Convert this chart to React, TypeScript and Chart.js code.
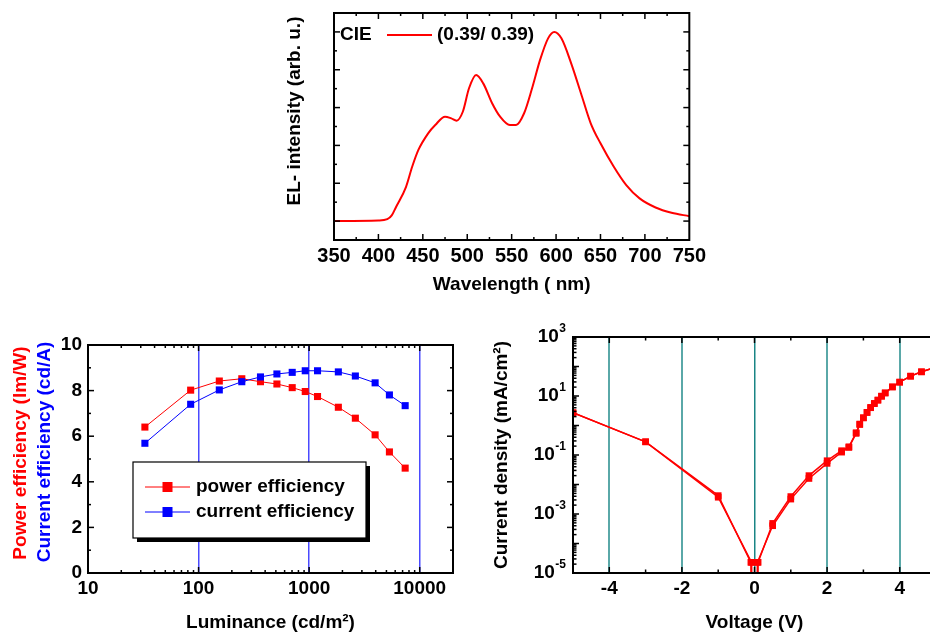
import React, { useEffect, useRef } from 'react';
import { Chart, registerables } from 'chart.js';

Chart.register(...registerables);

const FONT = "'Liberation Sans', Arial, Helvetica, sans-serif";

// ---------- Top: EL spectrum ----------
const wavelength = [350, 400, 410, 415, 420, 431, 438, 445, 456, 464, 475, 482, 488, 495, 502, 510, 518, 528, 537, 548, 555, 564, 573, 582, 591, 598, 606, 617, 628, 639, 650, 665, 679, 694, 712, 730, 750];
const elIntensity = [0.0, 0.003, 0.01, 0.03, 0.076, 0.18, 0.287, 0.376, 0.464, 0.508, 0.552, 0.543, 0.531, 0.578, 0.702, 0.772, 0.728, 0.623, 0.552, 0.508, 0.508, 0.57, 0.702, 0.852, 0.966, 1.0, 0.966, 0.834, 0.676, 0.517, 0.411, 0.287, 0.19, 0.12, 0.072, 0.044, 0.026];
const wavelengthTicks = [350, 400, 450, 500, 550, 600, 650, 700, 750];
const cieLabel = '(0.39/ 0.39)';

// ---------- Bottom left: efficiencies ----------
const luminance = [32.7, 84.8, 154, 246, 363, 511, 703, 922, 1191, 1837, 2618, 3951, 5321, 7386];
const powerEfficiency = [6.4, 8.02, 8.42, 8.52, 8.39, 8.29, 8.13, 7.96, 7.74, 7.27, 6.79, 6.06, 5.31, 4.6];
const currentEfficiency = [5.69, 7.4, 8.03, 8.39, 8.6, 8.73, 8.8, 8.87, 8.87, 8.82, 8.64, 8.34, 7.81, 7.34];
const luminanceTicks = [10, 100, 1000, 10000];
const efficiencyTicks = [0, 2, 4, 6, 8, 10];

// ---------- Bottom right: J-V ----------
const voltageA = [-5, -3, -1, -0.1, -0.07, 0.07, 0.1, 0.5, 1, 1.5, 2, 2.4, 2.6, 2.8, 2.9, 3.0, 3.1, 3.2, 3.3, 3.4, 3.5, 3.6, 3.8, 4.0, 4.3, 4.6, 5.0];
const currentA = [2.7, 0.28, 0.0042, 2.3e-5, 1e-9, 1e-9, 2.3e-5, 4.8e-4, 3.9e-3, 0.02, 0.064, 0.14, 0.19, 0.57, 1.12, 1.84, 2.8, 4.1, 5.6, 7.3, 9.9, 12.8, 20.4, 29.5, 47, 66, 95];
const voltageB = [-5, -3, -1, -0.08, -0.03, 0.03, 0.08, 0.5, 1, 1.5, 2, 2.4, 2.6, 2.8, 2.9, 3.0, 3.1, 3.2, 3.3, 3.4, 3.5, 3.6, 3.8, 4.0, 4.3, 4.6, 5.0];
const currentB = [2.7, 0.28, 0.0037, 2.3e-5, 1e-9, 1e-9, 2.3e-5, 4.0e-4, 3.2e-3, 0.016, 0.052, 0.125, 0.18, 0.54, 1.08, 1.8, 2.75, 4.0, 5.5, 7.2, 9.8, 12.6, 20.2, 29.5, 47, 66, 95];
const voltageTicks = [-4, -2, 0, 2, 4];
const densityExponents = [3, 1, -1, -3, -5];

const RED = '#ff0000';
const BLUE = '#0000ff';

function font(size: number) {
  return { family: FONT, size, weight: 'bold' as const, lineHeight: 1.2 };
}

function frameTicks(o: { xMajor: number[]; xMinor: number[]; yMajor: number[]; yMinor: number[]; majorLen: number; minorLen: number }) {
  return {
    id: 'frameTicks',
    afterDatasetsDraw(chart: any) {
      const { ctx, chartArea: a, scales } = chart;
      const xs = scales.x;
      const ys = scales.y;
      ctx.save();
      ctx.strokeStyle = '#000';
      ctx.lineWidth = 1.5;
      const line = (x1: number, y1: number, x2: number, y2: number) => {
        ctx.beginPath();
        ctx.moveTo(x1, y1);
        ctx.lineTo(x2, y2);
        ctx.stroke();
      };
      const xGroups: [number[], number][] = [[o.xMajor, o.majorLen], [o.xMinor, o.minorLen]];
      for (const [vals, len] of xGroups) {
        for (const v of vals) {
          const p = xs.getPixelForValue(v);
          if (p < a.left + 1 || p > a.right - 1) continue;
          line(p, a.bottom, p, a.bottom - len);
          line(p, a.top, p, a.top + len);
        }
      }
      const yGroups: [number[], number][] = [[o.yMajor, o.majorLen], [o.yMinor, o.minorLen]];
      for (const [vals, len] of yGroups) {
        for (const v of vals) {
          const p = ys.getPixelForValue(v);
          if (p < a.top + 1 || p > a.bottom - 1) continue;
          line(a.left, p, a.left + len, p);
          line(a.right, p, a.right - len, p);
        }
      }
      ctx.lineWidth = 2;
      ctx.strokeRect(a.left, a.top, a.right - a.left, a.bottom - a.top);
      ctx.restore();
    },
  };
}

function drawText(ctx: CanvasRenderingContext2D, text: string, x: number, y: number, size: number, color: string, rotation = 0, align: CanvasTextAlign = 'center') {
  ctx.save();
  ctx.translate(x, y);
  ctx.rotate(rotation);
  ctx.font = `bold ${size}px ${FONT}`;
  ctx.fillStyle = color;
  ctx.textAlign = align;
  ctx.textBaseline = 'middle';
  ctx.fillText(text, 0, 0);
  ctx.restore();
}

function ChartBox(props: { left: number; top: number; width: number; height: number; build: () => any }) {
  const ref = useRef<HTMLCanvasElement>(null);
  useEffect(() => {
    const chart = new Chart(ref.current as HTMLCanvasElement, props.build());
    return () => chart.destroy();
  }, []);
  return (
    <canvas
      ref={ref}
      width={props.width}
      height={props.height}
      style={{ position: 'absolute', left: props.left, top: props.top, width: props.width, height: props.height, display: 'block' }}
    />
  );
}

const noAxisDeco = { grid: { display: false, drawTicks: false }, border: { display: false } };

function buildSpectrum() {
  const minors: number[] = [];
  for (let i = 0; i < wavelengthTicks.length - 1; i++) minors.push((wavelengthTicks[i] + wavelengthTicks[i + 1]) / 2);
  return {
    type: 'line',
    data: {
      datasets: [
        {
          data: wavelength.map((x, i) => ({ x, y: elIntensity[i] })),
          borderColor: RED,
          borderWidth: 2,
          pointRadius: 0,
          cubicInterpolationMode: 'monotone',
          fill: false,
        },
      ],
    },
    options: {
      animation: false,
      responsive: false,
      layout: { padding: { top: 13, right: 12, left: 0, bottom: 0 } },
      plugins: { legend: { display: false }, tooltip: { enabled: false } },
      scales: {
        x: {
          type: 'linear',
          min: 350,
          max: 750,
          afterBuildTicks: (s: any) => { s.ticks = wavelengthTicks.map((value) => ({ value })); },
          afterFit: (s: any) => { s.height = 60; },
          ...noAxisDeco,
          ticks: { padding: 4, font: font(20), color: '#000', maxRotation: 0, autoSkip: false, callback: (v: any) => String(v) },
          title: { display: true, text: 'Wavelength ( nm)', font: font(19), color: '#000', padding: { top: 0, bottom: 4 } },
        },
        y: {
          type: 'linear',
          min: -0.1,
          max: 1.1,
          afterFit: (s: any) => { s.width = 64; },
          ticks: { display: false },
          ...noAxisDeco,
        },
      },
    },
    plugins: [
      frameTicks({ xMajor: wavelengthTicks, xMinor: minors, yMajor: [0, 0.2, 0.4, 0.6, 0.8, 1.0], yMinor: [0.1, 0.3, 0.5, 0.7, 0.9], majorLen: 6, minorLen: 3 }),
      {
        id: 'spectrumTexts',
        afterDraw(chart: any) {
          const ctx = chart.ctx as CanvasRenderingContext2D;
          drawText(ctx, 'EL- intensity (arb. u.)', 25, 111, 19, '#000', -Math.PI / 2);
          drawText(ctx, 'CIE', 70, 35, 19, '#000', 0, 'left');
          ctx.save();
          ctx.strokeStyle = RED;
          ctx.lineWidth = 2;
          ctx.beginPath();
          ctx.moveTo(117, 35);
          ctx.lineTo(162, 35);
          ctx.stroke();
          ctx.restore();
          drawText(ctx, cieLabel, 167, 35, 19, '#000', 0, 'left');
        },
      },
    ],
  };
}

function buildEfficiency() {
  const xMinor: number[] = [];
  for (const d of [10, 100, 1000]) for (let k = 2; k <= 9; k++) xMinor.push(d * k);
  return {
    type: 'line',
    data: {
      datasets: [
        {
          label: 'current efficiency',
          data: luminance.map((x, i) => ({ x, y: currentEfficiency[i] })),
          borderColor: BLUE,
          backgroundColor: BLUE,
          borderWidth: 1,
          pointStyle: 'rect',
          pointRadius: 5,
          pointBorderWidth: 0,
        },
        {
          label: 'power efficiency',
          data: luminance.map((x, i) => ({ x, y: powerEfficiency[i] })),
          borderColor: RED,
          backgroundColor: RED,
          borderWidth: 1,
          pointStyle: 'rect',
          pointRadius: 5,
          pointBorderWidth: 0,
        },
      ],
    },
    options: {
      animation: false,
      responsive: false,
      layout: { padding: { top: 25, right: 17, left: 0, bottom: 0 } },
      plugins: { legend: { display: false }, tooltip: { enabled: false } },
      scales: {
        x: {
          type: 'logarithmic',
          min: 10,
          max: 20000,
          afterBuildTicks: (s: any) => { s.ticks = luminanceTicks.map((value) => ({ value })); },
          afterFit: (s: any) => { s.height = 67; },
          grid: {
            display: true,
            drawTicks: false,
            lineWidth: 1.5,
            color: (c: any) => (c.tick && c.tick.value > 10 ? '#4a4aff' : 'rgba(0,0,0,0)'),
          },
          border: { display: false },
          ticks: { padding: 4, font: font(19), color: '#000', maxRotation: 0, autoSkip: false, callback: (v: any) => String(v) },
          title: { display: true, text: 'Luminance (cd/m²)', font: font(19), color: '#000', padding: { top: 0, bottom: 6 } },
        },
        y: {
          type: 'linear',
          min: 0,
          max: 10,
          afterBuildTicks: (s: any) => { s.ticks = efficiencyTicks.map((value) => ({ value })); },
          afterFit: (s: any) => { s.width = 88; },
          ...noAxisDeco,
          ticks: { padding: 6, font: font(19), color: '#000', callback: (v: any) => String(v) },
        },
      },
    },
    plugins: [
      frameTicks({ xMajor: luminanceTicks, xMinor, yMajor: efficiencyTicks, yMinor: [1, 3, 5, 7, 9], majorLen: 6, minorLen: 3 }),
      {
        id: 'efficiencyTexts',
        afterDraw(chart: any) {
          const ctx = chart.ctx as CanvasRenderingContext2D;
          drawText(ctx, 'Power efficiency (lm/W)', 21, 133, 19, RED, -Math.PI / 2);
          drawText(ctx, 'Current efficiency (cd/A)', 45, 132, 19, BLUE, -Math.PI / 2);
          // legend box
          const bx = 133, by = 142, bw = 233, bh = 76;
          ctx.save();
          ctx.fillStyle = '#000';
          ctx.fillRect(bx + 4, by + 4, bw, bh);
          ctx.fillStyle = '#fff';
          ctx.fillRect(bx, by, bw, bh);
          ctx.strokeStyle = '#000';
          ctx.lineWidth = 1.2;
          ctx.strokeRect(bx, by, bw, bh);
          const rows: [string, string, number][] = [['power efficiency', RED, 167], ['current efficiency', BLUE, 192]];
          for (const [label, color, y] of rows) {
            ctx.strokeStyle = color;
            ctx.lineWidth = 1;
            ctx.beginPath();
            ctx.moveTo(145, y);
            ctx.lineTo(190, y);
            ctx.stroke();
            ctx.fillStyle = color;
            ctx.fillRect(167.5 - 5, y - 5, 10, 10);
            drawText(ctx, label, 196, y, 19, '#000', 0, 'left');
          }
          ctx.restore();
        },
      },
    ],
  };
}

function buildJV() {
  const yMajor = [1e-5, 1e-4, 1e-3, 1e-2, 1e-1, 1, 10, 100, 1000];
  const yMinor: number[] = [];
  for (const d of yMajor.slice(0, -1)) for (let k = 2; k <= 9; k++) yMinor.push(d * k);
  const radius = (c: any) => (c.raw && c.raw.y < 1e-6 ? 0 : 4.7);
  return {
    type: 'line',
    data: {
      datasets: [
        {
          data: voltageA.map((x, i) => ({ x, y: currentA[i] })),
          borderColor: RED,
          backgroundColor: RED,
          borderWidth: 1.5,
          pointStyle: 'rect',
          pointRadius: radius,
          pointBorderWidth: 0,
        },
        {
          data: voltageB.map((x, i) => ({ x, y: currentB[i] })),
          borderColor: RED,
          backgroundColor: RED,
          borderWidth: 1.5,
          pointStyle: 'rect',
          pointRadius: radius,
          pointBorderWidth: 0,
        },
      ],
    },
    options: {
      animation: false,
      responsive: false,
      layout: { padding: { top: 17, right: 14, left: 0, bottom: 0 } },
      plugins: { legend: { display: false }, tooltip: { enabled: false } },
      scales: {
        x: {
          type: 'linear',
          min: -5,
          max: 5,
          afterBuildTicks: (s: any) => { s.ticks = voltageTicks.map((value) => ({ value })); },
          afterFit: (s: any) => { s.height = 67; },
          grid: {
            display: true,
            drawTicks: false,
            lineWidth: (c: any) => (c.tick && c.tick.value === 0 ? 1.5 : 2),
            color: (c: any) => (c.tick && c.tick.value === 0 ? '#1a8585' : '#5aa8a8'),
          },
          border: { display: false },
          ticks: { padding: 4, font: font(19), color: '#000', maxRotation: 0, autoSkip: false, callback: (v: any) => String(v) },
          title: { display: true, text: 'Voltage (V)', font: font(19), color: '#000', padding: { top: 0, bottom: 6 } },
        },
        y: {
          type: 'logarithmic',
          min: 1e-5,
          max: 1e3,
          afterFit: (s: any) => { s.width = 103; },
          ticks: { display: false },
          ...noAxisDeco,
          title: { display: true, text: 'Current density (mA/cm²)', font: font(19), color: '#000', padding: { top: 20, bottom: 0 } },
        },
      },
    },
    plugins: [
      frameTicks({ xMajor: voltageTicks, xMinor: [-3, -1, 1, 3], yMajor, yMinor, majorLen: 6, minorLen: 3.5 }),
      {
        id: 'jvLabels',
        afterDraw(chart: any) {
          const ctx = chart.ctx as CanvasRenderingContext2D;
          const a = chart.chartArea;
          const ys = chart.scales.y;
          ctx.save();
          ctx.fillStyle = '#000';
          ctx.textAlign = 'right';
          ctx.textBaseline = 'middle';
          for (const e of densityExponents) {
            const py = ys.getPixelForValue(Math.pow(10, e));
            const exp = String(e);
            ctx.font = `bold 12px ${FONT}`;
            const ew = ctx.measureText(exp).width;
            const xr = a.left - 7;
            ctx.fillText(exp, xr, py - 8);
            ctx.font = `bold 19px ${FONT}`;
            ctx.fillText('10', xr - ew - 0.5, py);
          }
          ctx.restore();
        },
      },
    ],
  };
}

export default function App() {
  return (
    <div style={{ position: 'fixed', left: 0, top: 0, width: 930, height: 640, overflow: 'hidden', background: '#fff' }}>
      <ChartBox left={270} top={0} width={440} height={300} build={buildSpectrum} />
      <ChartBox left={0} top={320} width={470} height={320} build={buildEfficiency} />
      <ChartBox left={470} top={320} width={480} height={320} build={buildJV} />
    </div>
  );
}
